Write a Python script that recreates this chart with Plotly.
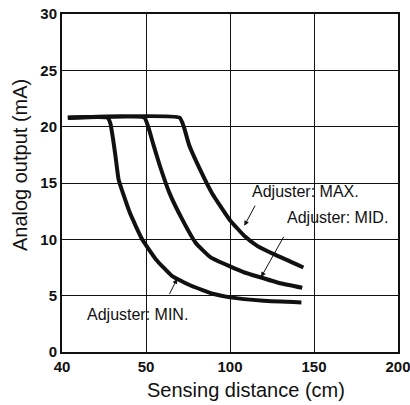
import plotly.graph_objects as go

# x values are axis positions: the scale is labelled 40, 50, 100, 150, 200
x_tick_pos = [0, 50, 100, 150, 200]
x_tick_text = ["40", "50", "100", "150", "200"]
y_ticks = [0, 5, 10, 15, 20, 25, 30]

# Adjuster: MIN.
min_x = [3.5, 27.0, 28.8, 30.5, 32.0, 33.7, 40.4, 47.7, 55.8, 65.4, 76.9, 90.4, 100, 120, 142.5]
min_y = [20.8, 20.8, 20.3, 18.8, 17.2, 15.3, 12.35, 10.0, 8.24, 6.76, 5.88, 5.15, 4.85, 4.55, 4.4]

# Adjuster: MID.
mid_x = [3.5, 49.0, 51.3, 54.4, 58.1, 64.0, 71.8, 79.5, 88.5, 100, 108, 116.4, 130, 143]
mid_y = [20.8, 20.8, 20.0, 18.4, 16.6, 14.1, 11.7, 9.7, 8.4, 7.6, 7.1, 6.7, 6.1, 5.7]

# Adjuster: MAX.
max_x = [3.5, 70.0, 72.5, 75.6, 82.5, 89.3, 100, 108.8, 116.4, 126.4, 143.7]
max_y = [20.8, 20.8, 20.0, 18.4, 16.1, 14.1, 11.7, 10.27, 9.4, 8.66, 7.5]

labels = ["Adjuster: MAX.", "Adjuster: MID.", "Adjuster: MIN."]
label_x = [145.0, 164.0, 45.0]
label_y = [14.24, 11.93, 3.37]
# arrow heads sit on the curves, tails point to the labels (pixel offsets)
arrow_x = [108.5, 118.5, 68.5]
arrow_y = [11.2, 6.65, 6.5]
arrow_ax = [11.6, 23.4, -8.3]
arrow_ay = [-21.7, -41.7, 16.7]

FONT = "Liberation Sans, Arial, sans-serif"

fig = go.Figure()
for xs, ys in [(min_x, min_y), (mid_x, mid_y), (max_x, max_y)]:
    fig.add_trace(go.Scatter(
        x=xs, y=ys, mode="lines",
        line=dict(color="#111111", width=4, shape="spline", smoothing=0.4),
        showlegend=False, hoverinfo="skip",
    ))

for txt, lx, ly in zip(labels, label_x, label_y):
    fig.add_annotation(x=lx, y=ly, text=txt, showarrow=False,
                       font=dict(family=FONT, size=16, color="#111111"))

for hx, hy, ax, ay in zip(arrow_x, arrow_y, arrow_ax, arrow_ay):
    fig.add_annotation(x=hx, y=hy, text="", showarrow=True, ax=ax, ay=ay,
                       arrowhead=2, arrowsize=1, arrowwidth=1, arrowcolor="#111111")

# axis titles
fig.add_annotation(xref="paper", yref="paper", x=0.548, y=-0.074,
                   text="Sensing distance (cm)", showarrow=False,
                   xanchor="center", yanchor="top",
                   font=dict(family=FONT, size=20, color="#111111"))
fig.add_annotation(xref="paper", yref="paper", x=-0.125, y=0.553,
                   text="Analog output (mA)", showarrow=False, textangle=-90,
                   xanchor="center", yanchor="middle",
                   font=dict(family=FONT, size=20, color="#111111"))

fig.update_layout(
    width=410, height=405,
    paper_bgcolor="white", plot_bgcolor="white",
    margin=dict(l=62, r=12, t=14, b=53, autoexpand=False),
    font=dict(family=FONT, color="#111111"),
)
fig.update_xaxes(
    range=[0, 200], tickvals=x_tick_pos, ticktext=x_tick_text,
    showgrid=True, gridcolor="#111111", gridwidth=1, zeroline=False,
    showline=True, linecolor="#111111", linewidth=2, mirror=True,
    ticks="", automargin=False, ticklabeloverflow="allow",
    tickfont=dict(family=FONT, size=15, color="#111111", weight="bold"),
)
fig.update_yaxes(
    range=[0, 30], tickvals=y_ticks,
    showgrid=True, gridcolor="#111111", gridwidth=1, zeroline=False,
    showline=True, linecolor="#111111", linewidth=2, mirror=True,
    ticks="", automargin=False,
    tickfont=dict(family=FONT, size=15, color="#111111", weight="bold"),
)

# drop the page's default body margin so the figure fills the window
fig.write_html(
    "out.html",
    config={"displayModeBar": False},
    post_script="document.body.style.margin='0';document.body.style.overflow='hidden';",
)
